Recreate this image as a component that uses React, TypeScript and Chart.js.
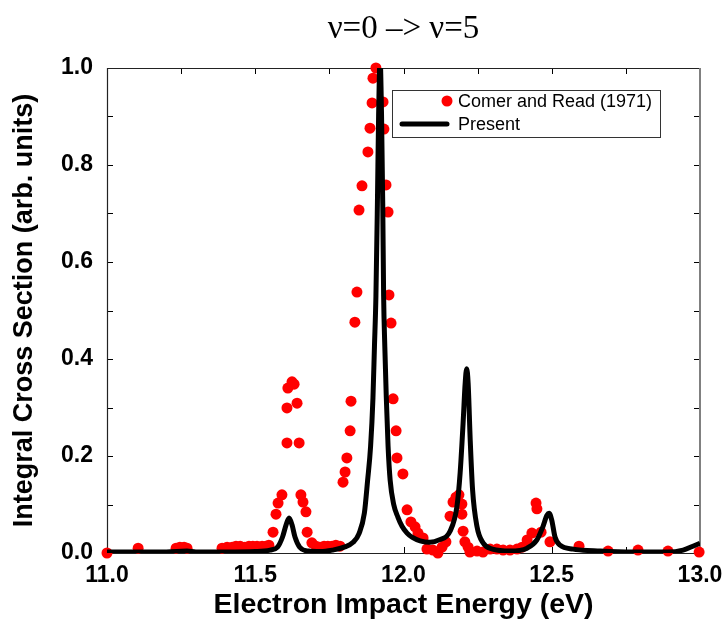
import React, { useEffect, useRef } from "react";
import { Chart, registerables } from "chart.js";

Chart.register(...registerables);

// ---------- text ----------
const TITLE = "ν=0 –> ν=5";
const X_LABEL = "Electron Impact Energy (eV)";
const Y_LABEL = "Integral Cross Section (arb. units)";
const EXP_LABEL = "Comer and Read (1971)";
const THEORY_LABEL = "Present";

// ---------- axes ----------
const X_MIN = 11;
const X_MAX = 13;
const X_STEP = 0.5;
const X_MINOR = 0.25;
const Y_MIN = 0;
const Y_MAX = 1;
const Y_STEP = 0.2;
const Y_MINOR = 0.1;

// ---------- experimental points (Comer and Read 1971) ----------
const expEnergy = [
  11.000, 11.105, 11.233, 11.246, 11.260, 11.270, 11.388, 11.405, 11.422, 11.435,
  11.449, 11.465, 11.479, 11.492, 11.506, 11.523, 11.536, 11.546, 11.560, 11.570,
  11.577, 11.590, 11.607, 11.607, 11.610, 11.624, 11.631, 11.641, 11.648, 11.654,
  11.661, 11.671, 11.675, 11.691, 11.705, 11.718, 11.732, 11.745, 11.759, 11.772,
  11.786, 11.796, 11.803, 11.809, 11.820, 11.823, 11.836, 11.843, 11.850, 11.860,
  11.880, 11.887, 11.894, 11.897, 11.907, 11.931, 11.934, 11.941, 11.948, 11.951,
  11.958, 11.965, 11.975, 11.978, 11.998, 12.012, 12.025, 12.039, 12.049, 12.066,
  12.079, 12.099, 12.116, 12.130, 12.143, 12.157, 12.167, 12.177, 12.187, 12.197,
  12.197, 12.201, 12.207, 12.218, 12.224, 12.248, 12.268, 12.292, 12.315, 12.336,
  12.359, 12.383, 12.400, 12.417, 12.433, 12.447, 12.450, 12.464, 12.494, 12.592,
  12.690, 12.791, 12.892, 12.997,
];
const expSection = [
  0.000, 0.010, 0.010, 0.012, 0.012, 0.010, 0.010, 0.012, 0.012, 0.014,
  0.014, 0.012, 0.014, 0.014, 0.014, 0.014, 0.014, 0.016, 0.043, 0.080,
  0.103, 0.120, 0.227, 0.299, 0.340, 0.353, 0.348, 0.309, 0.227, 0.120,
  0.105, 0.085, 0.043, 0.021, 0.014, 0.012, 0.014, 0.014, 0.014, 0.016,
  0.014, 0.146, 0.167, 0.196, 0.252, 0.313, 0.476, 0.538, 0.707, 0.757,
  0.827, 0.876, 0.928, 0.979, 1.000, 0.930, 0.874, 0.759, 0.703, 0.532,
  0.474, 0.318, 0.252, 0.196, 0.163, 0.089, 0.064, 0.054, 0.041, 0.031,
  0.008, 0.006, 0.000, 0.012, 0.023, 0.076, 0.105, 0.115, 0.120, 0.101,
  0.080, 0.045, 0.023, 0.012, 0.002, 0.004, 0.002, 0.008, 0.008, 0.006,
  0.006, 0.008, 0.012, 0.027, 0.041, 0.103, 0.091, 0.043, 0.023, 0.014,
  0.004, 0.006, 0.004, 0.002,
];

// ---------- present calculation (curve) ----------
const theoryEnergy = [
  11.000, 11.100, 11.200, 11.270, 11.300, 11.400, 11.500, 11.550, 11.575, 11.592,
  11.604, 11.614, 11.624, 11.634, 11.650, 11.680, 11.720, 11.760, 11.800, 11.830,
  11.850, 11.868, 11.879, 11.889, 11.897, 11.902, 11.907, 11.912, 11.916, 11.921,
  11.926, 11.930, 11.933, 11.937, 11.942, 11.948, 11.955, 11.967, 11.981, 11.995,
  12.012, 12.030, 12.056, 12.089, 12.120, 12.157, 12.180, 12.191, 12.201, 12.208,
  12.213, 12.218, 12.225, 12.233, 12.248, 12.268, 12.300, 12.360, 12.417, 12.450,
  12.470, 12.484, 12.491, 12.500, 12.511, 12.528, 12.572, 12.663, 12.774, 12.889,
  12.943, 12.976, 13.000,
];
const theorySection = [
  0.002, 0.002, 0.002, 0.004, 0.002, 0.002, 0.003, 0.006, 0.012, 0.033,
  0.058, 0.072, 0.058, 0.033, 0.012, 0.004, 0.003, 0.006, 0.012, 0.022,
  0.040, 0.082, 0.150, 0.220, 0.320, 0.425, 0.530, 0.720, 0.900, 1.020,
  0.900, 0.720, 0.530, 0.425, 0.320, 0.220, 0.150, 0.100, 0.074, 0.055,
  0.041, 0.032, 0.025, 0.022, 0.027, 0.045, 0.095, 0.165, 0.268, 0.350,
  0.380, 0.350, 0.233, 0.130, 0.054, 0.021, 0.008, 0.004, 0.010, 0.027,
  0.054, 0.078, 0.082, 0.068, 0.033, 0.016, 0.008, 0.004, 0.002, 0.002,
  0.006, 0.014, 0.020,
];

const SANS = "'Liberation Sans', Arial, sans-serif";
const SERIF = "'Liberation Serif', 'Times New Roman', serif";

const framePlugin = {
  id: "frameTicks",
  beforeDatasetsDraw(chart: any) {
    const { ctx, chartArea: a, scales } = chart;
    const xs = scales.x;
    const ys = scales.y;
    const len = 6;
    ctx.save();
    ctx.strokeStyle = "#000";
    ctx.lineWidth = 1;
    const nx = Math.round((X_MAX - X_MIN) / X_MINOR);
    for (let i = 0; i <= nx; i++) {
      const px = Math.round(xs.getPixelForValue(X_MIN + i * X_MINOR)) + 0.5;
      ctx.beginPath();
      ctx.moveTo(px, a.bottom);
      ctx.lineTo(px, a.bottom - len);
      ctx.moveTo(px, a.top);
      ctx.lineTo(px, a.top + len);
      ctx.stroke();
    }
    const ny = Math.round((Y_MAX - Y_MIN) / Y_MINOR);
    for (let i = 0; i <= ny; i++) {
      const py = Math.round(ys.getPixelForValue(Y_MIN + i * Y_MINOR)) + 0.5;
      ctx.beginPath();
      ctx.moveTo(a.left, py);
      ctx.lineTo(a.left + len, py);
      ctx.moveTo(a.right, py);
      ctx.lineTo(a.right - len, py);
      ctx.stroke();
    }
    ctx.strokeStyle = "#222";
    ctx.lineWidth = 1.2;
    ctx.beginPath();
    ctx.moveTo(a.right, a.top + 0.5);
    ctx.lineTo(a.left + 0.5, a.top + 0.5);
    ctx.lineTo(a.left + 0.5, a.bottom + 0.5);
    ctx.lineTo(a.right, a.bottom + 0.5);
    ctx.stroke();
    ctx.strokeStyle = "#808080";
    ctx.lineWidth = 2;
    ctx.beginPath();
    ctx.moveTo(a.right, a.top);
    ctx.lineTo(a.right, a.bottom + 1);
    ctx.stroke();
    ctx.restore();
  },
};

const legendPlugin = {
  id: "boxLegend",
  afterDraw(chart: any) {
    const { ctx, chartArea: a } = chart;
    const expDs = chart.data.datasets[1];
    const thDs = chart.data.datasets[0];
    const x0 = a.left + 285;
    const y0 = a.top + 22;
    const w = 268;
    const h = 47;
    ctx.save();
    ctx.fillStyle = "#fff";
    ctx.fillRect(x0, y0, w, h);
    ctx.strokeStyle = "#333";
    ctx.lineWidth = 1;
    ctx.strokeRect(x0 + 0.5, y0 + 0.5, w, h);
    ctx.font = `18px ${SANS}`;
    ctx.fillStyle = "#000";
    ctx.textBaseline = "middle";
    ctx.textAlign = "left";
    // row 1
    ctx.beginPath();
    ctx.fillStyle = expDs.backgroundColor;
    ctx.arc(x0 + 55, y0 + 11, expDs.pointRadius, 0, Math.PI * 2);
    ctx.fill();
    ctx.fillStyle = "#000";
    ctx.fillText(expDs.label, x0 + 66, y0 + 12);
    // row 2
    ctx.strokeStyle = thDs.borderColor;
    ctx.lineWidth = thDs.borderWidth;
    ctx.lineCap = "round";
    ctx.beginPath();
    ctx.moveTo(x0 + 10, y0 + 34);
    ctx.lineTo(x0 + 55, y0 + 34);
    ctx.stroke();
    ctx.fillText(thDs.label, x0 + 66, y0 + 35);
    ctx.restore();
  },
};

export default function App() {
  const canvasRef = useRef<HTMLCanvasElement | null>(null);

  useEffect(() => {
    const canvas = canvasRef.current;
    if (!canvas) return;
    const chart = new Chart(canvas, {
      type: "scatter",
      data: {
        datasets: [
          {
            label: THEORY_LABEL,
            data: theoryEnergy.map((x, i) => ({ x, y: theorySection[i] })),
            showLine: true,
            borderColor: "#000000",
            borderWidth: 5,
            pointRadius: 0,
            cubicInterpolationMode: "monotone",
            order: 0,
          } as any,
          {
            label: EXP_LABEL,
            data: expEnergy.map((x, i) => ({ x, y: expSection[i] })),
            showLine: false,
            pointRadius: 5.5,
            pointStyle: "circle",
            backgroundColor: "#ff0000",
            borderWidth: 0,
            clip: false,
            order: 1,
          } as any,
        ],
      },
      options: {
        animation: false,
        responsive: false,
        events: [],
        layout: { padding: { left: 0, right: 25, top: 0, bottom: 0 } },
        plugins: {
          legend: { display: false },
          tooltip: { enabled: false },
          title: {
            display: true,
            text: TITLE,
            fullSize: false,
            color: "#000",
            font: { family: SERIF, size: 33, weight: "normal" },
            padding: { top: 10, bottom: 18.4 },
          },
        },
        scales: {
          x: {
            type: "linear",
            min: X_MIN,
            max: X_MAX,
            grid: { display: false, drawTicks: false },
            border: { display: false },
            ticks: {
              stepSize: X_STEP,
              autoSkip: false,
              maxRotation: 0,
              padding: 9,
              color: "#000",
              font: { family: SANS, size: 23, weight: "bold" },
              callback: (v: any) => Number(v).toFixed(1),
            },
            title: {
              display: true,
              text: X_LABEL,
              color: "#000",
              font: { family: SANS, size: 28.5, weight: "bold" },
              padding: { top: 0, bottom: 5 },
            },
            afterFit: (s: any) => {
              s.height = 74;
              s.paddingLeft = 0;
              s.paddingRight = 0;
            },
          },
          y: {
            type: "linear",
            min: Y_MIN,
            max: Y_MAX,
            grid: { display: false, drawTicks: false },
            border: { display: false },
            ticks: {
              stepSize: Y_STEP,
              padding: 14,
              color: "#000",
              font: { family: SANS, size: 23, weight: "bold" },
              callback: (v: any) => Number(v).toFixed(1),
            },
            title: {
              display: true,
              text: Y_LABEL,
              color: "#000",
              font: { family: SANS, size: 27, weight: "bold" },
              padding: { top: 8, bottom: 0 },
            },
            afterFit: (s: any) => {
              s.width = 107;
              s.paddingTop = 0;
              s.paddingBottom = 0;
            },
          },
        },
      },
      plugins: [framePlugin, legendPlugin],
    });
    return () => chart.destroy();
  }, []);

  return (
    <div style={{ position: "fixed", left: 0, top: 0, width: 725, height: 627, background: "#fff" }}>
      <canvas ref={canvasRef} width={725} height={627} style={{ display: "block" }} />
    </div>
  );
}
